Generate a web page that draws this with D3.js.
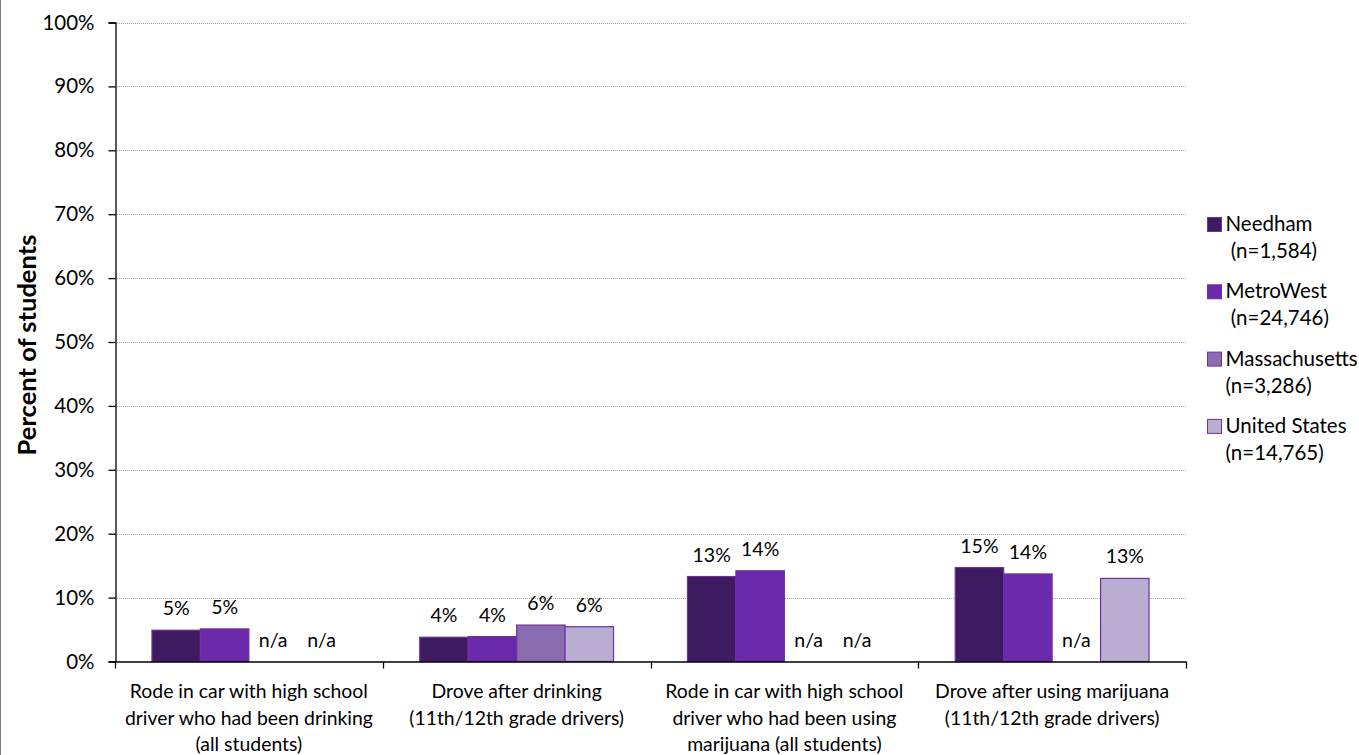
<!DOCTYPE html>
<html>
<head>
<meta charset="utf-8">
<script src="https://cdn.jsdelivr.net/npm/d3@7"></script>
<style>
  html, body { margin: 0; padding: 0; background: #fff; }
  svg { display: block; font-family: Lato, "Open Sans", sans-serif; }
</style>
</head>
<body>
<svg id="chart" width="1359" height="755"></svg>
<script>
// ---- data ----
const categories = [
  ["Rode in car with high school", "driver who had been drinking", "(all students)"],
  ["Drove after drinking", "(11th/12th grade drivers)"],
  ["Rode in car with high school", "driver who had been using", "marijuana (all students)"],
  ["Drove after using marijuana", "(11th/12th grade drivers)"]
];
const seriesNames = ["Needham", "MetroWest", "Massachusetts", "United States"];
const seriesN = [" (n=1,584)", " (n=24,746)", "(n=3,286)", "(n=14,765)"];
const needham = [4.9, 3.8, 13.3, 14.7];
const metroWest = [5.1, 3.9, 14.2, 13.7];
const massachusetts = [null, 5.7, null, null];
const unitedStates = [null, 5.45, null, 13.0];
const labelsNeedham = ["5%", "4%", "13%", "15%"];
const labelsMetroWest = ["5%", "4%", "14%", "14%"];
const labelsMassachusetts = ["n/a", "6%", "n/a", "n/a"];
const labelsUnitedStates = ["n/a", "6%", "n/a", "13%"];
const yTicks = [0, 10, 20, 30, 40, 50, 60, 70, 80, 90, 100];
const colors = ["#3e1a61", "#6b29ab", "#8a6daf", "#b9aed1"];

const seriesValues = [needham, metroWest, massachusetts, unitedStates];
const seriesLabels = [labelsNeedham, labelsMetroWest, labelsMassachusetts, labelsUnitedStates];

// ---- layout ----
const svg = d3.select("#chart");
const pLeft = 115, pRight = 1186, pTop = 22.5, pBottom = 661.5;

const x0 = d3.scaleBand().domain(d3.range(categories.length)).range([pLeft, pRight]).paddingInner(0).paddingOuter(0);
const x1 = d3.scaleBand().domain(d3.range(seriesNames.length)).range([0, x0.bandwidth()]).paddingInner(0).paddingOuter(0.763);
const y = d3.scaleLinear().domain([0, 100]).range([pBottom, pTop]);

// chart border (left edge visible)
svg.append("line").attr("x1", 0.5).attr("x2", 0.5).attr("y1", 0).attr("y2", 755)
  .attr("stroke", "#7f7f7f").attr("stroke-width", 1);

// gridlines
svg.append("g").selectAll("line").data(yTicks.filter(d => d > 0)).join("line")
  .attr("x1", pLeft).attr("x2", pRight)
  .attr("y1", d => Math.round(y(d)) + 0.5).attr("y2", d => Math.round(y(d)) + 0.5)
  .attr("stroke", "#a6a6a6").attr("stroke-width", 1).attr("stroke-dasharray", "1,1");

// bars
const groups = svg.append("g").selectAll("g").data(seriesValues).join("g");
groups.each(function(vals, si) {
  d3.select(this).selectAll("rect").data(vals.map((v, ci) => ({v, ci})).filter(d => d.v != null)).join("rect")
    .attr("x", d => x0(d.ci) + x1(si))
    .attr("y", d => y(d.v))
    .attr("width", x1.bandwidth())
    .attr("height", d => y(0) - y(d.v))
    .attr("fill", colors[si])
    .attr("stroke", "#7030a0").attr("stroke-width", 1.2);
});

// data labels
groups.each(function(vals, si) {
  d3.select(this).selectAll("text").data(vals.map((v, ci) => ({v, ci, t: seriesLabels[si][ci]}))).join("text")
    .attr("x", d => x0(d.ci) + x1(si) + x1.bandwidth() / 2)
    .attr("y", d => y(d.v == null ? 0 : d.v) - 15)
    .attr("text-anchor", "middle")
    .attr("font-size", 19.5).attr("fill", "#000")
    .text(d => d.t);
});

// y axis
const yAxis = d3.axisLeft(y).tickValues(yTicks).tickFormat(d => d + "%").tickSize(7).tickPadding(14);
const gy = svg.append("g").attr("transform", `translate(${pLeft + 0.5},0)`).call(yAxis);
gy.select(".domain").attr("stroke", "#000").attr("stroke-width", 1.3);
gy.selectAll(".tick line").attr("stroke", "#000").attr("stroke-width", 1.3);
gy.selectAll(".tick text").attr("font-size", 20.5).attr("font-family", "Lato, sans-serif").attr("fill", "#000");

// x axis
const boundaries = d3.range(categories.length + 1).map(i => i === categories.length ? pRight : x0(i));
const gx = svg.append("g");
gx.append("line").attr("x1", pLeft).attr("x2", pRight).attr("y1", pBottom + 0.5).attr("y2", pBottom + 0.5)
  .attr("stroke", "#000").attr("stroke-width", 1.3);
gx.selectAll("line.tk").data(boundaries).join("line").attr("class", "tk")
  .attr("x1", d => Math.round(d) + 0.5).attr("x2", d => Math.round(d) + 0.5)
  .attr("y1", pBottom).attr("y2", pBottom + 7)
  .attr("stroke", "#000").attr("stroke-width", 1.3);
const catText = gx.selectAll("text").data(categories).join("text")
  .attr("text-anchor", "middle").attr("font-size", 19.4).attr("fill", "#000");
catText.each(function(lines, i) {
  d3.select(this).selectAll("tspan").data(lines).join("tspan")
    .attr("x", x0(i) + x0.bandwidth() / 2)
    .attr("y", (d, j) => 698 + j * 26.6)
    .text(d => d);
});

// y axis title
svg.append("text")
  .attr("transform", `translate(36,345) rotate(-90)`)
  .attr("text-anchor", "middle").attr("font-size", 25.5).attr("font-weight", "bold").attr("fill", "#000")
  .text("Percent of students");

// legend
const legend = svg.append("g").selectAll("g").data(seriesNames).join("g")
  .attr("transform", (d, i) => `translate(1207,${217 + i * 67.3})`);
legend.append("rect").attr("x", 0.5).attr("y", 0.5).attr("width", 14).attr("height", 14)
  .attr("fill", (d, i) => colors[i]).attr("stroke", "#7030a0").attr("stroke-width", 1);
legend.append("text").attr("x", 18.5).attr("y", 14).attr("font-size", 20.5).attr("fill", "#000").text(d => d);
legend.append("text").attr("x", 18.5).attr("y", 41).attr("font-size", 20.5).attr("fill", "#000")
  .style("white-space", "pre").text((d, i) => seriesN[i]);
</script>
</body>
</html>
